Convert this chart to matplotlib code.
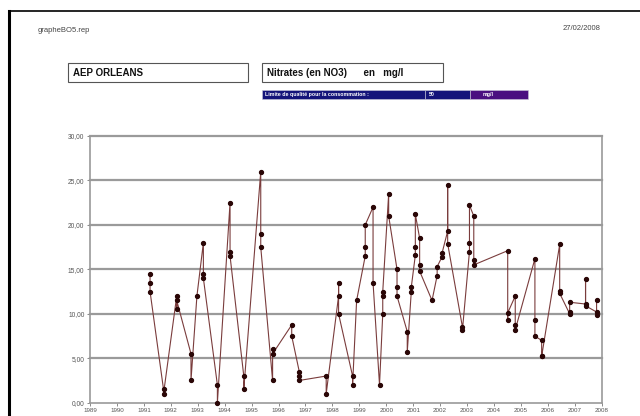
import numpy as np
import matplotlib.pyplot as plt
from matplotlib.patches import Rectangle
from matplotlib.lines import Line2D

plt.rcParams['font.family'] = ['Liberation Sans', 'DejaVu Sans']

# sampling dates (decimal years) and nitrate measurements in mg/l
dates = [1991.23, 1991.23, 1991.23,
         1991.73, 1991.73,
         1992.22, 1992.22, 1992.22,
         1992.75, 1992.75,
         1992.97,
         1993.21, 1993.21, 1993.21,
         1993.73, 1993.73,
         1994.20, 1994.20, 1994.20,
         1994.71, 1994.71,
         1995.34, 1995.34, 1995.34,
         1995.78, 1995.78, 1995.78,
         1996.49, 1996.49,
         1996.77, 1996.77, 1996.77,
         1997.77, 1997.77,
         1998.23, 1998.23, 1998.23,
         1998.75, 1998.75,
         1998.90,
         1999.22, 1999.22, 1999.22,
         1999.51, 1999.51,
         1999.75,
         1999.87, 1999.87, 1999.87,
         2000.09, 2000.09,
         2000.40, 2000.40, 2000.40,
         2000.78, 2000.78,
         2000.93, 2000.93,
         2001.08, 2001.08, 2001.08,
         2001.24, 2001.24, 2001.24,
         2001.70,
         2001.89, 2001.89,
         2002.07, 2002.07,
         2002.28, 2002.28, 2002.28,
         2002.83, 2002.83,
         2003.09, 2003.09, 2003.09,
         2003.25, 2003.25, 2003.25,
         2004.51, 2004.51, 2004.51,
         2004.79, 2004.79, 2004.79,
         2005.52, 2005.52, 2005.52,
         2005.77, 2005.77, 2005.77,
         2006.44, 2006.44, 2006.44,
         2006.81, 2006.81, 2006.81,
         2007.40, 2007.40, 2007.40,
         2007.81, 2007.81, 2007.81]
nitrates = [14.5, 13.5, 12.5,
            1.5, 1.0,
            12.0, 10.5, 11.5,
            5.5, 2.5,
            12.0,
            18.0, 14.5, 14.0,
            2.0, 0.0,
            22.5, 17.0, 16.5,
            3.0, 1.5,
            26.0, 19.0, 17.5,
            2.5, 6.0, 5.5,
            8.75, 7.5,
            3.5, 3.0, 2.5,
            3.0, 1.0,
            12.0, 13.5, 10.0,
            3.0, 2.0,
            11.5,
            16.5, 17.5, 20.0,
            22.0, 13.5,
            2.0,
            10.0, 12.0, 12.5,
            23.5, 21.0,
            15.0, 13.0, 12.0,
            8.0, 5.7,
            12.5, 13.0,
            16.6, 17.5, 21.2,
            18.5, 15.5, 14.8,
            11.5,
            14.3, 15.3,
            16.4, 16.8,
            19.3, 24.5, 17.9,
            8.5, 8.2,
            17.0, 18.0, 22.2,
            21.0, 16.0, 15.5,
            17.1, 9.3, 10.1,
            12.0, 8.7, 8.2,
            16.2, 9.3, 7.5,
            7.0, 5.3, 5.2,
            17.8, 12.6, 12.3,
            10.0, 10.2, 11.3,
            11.1, 13.9, 10.9,
            10.2, 9.9, 11.5]

years = list(range(1989, 2009))
yticks = [0, 5, 10, 15, 20, 25, 30]

W, H = 640, 416
fig = plt.figure(figsize=(W / 100, H / 100), dpi=100)
fig.patch.set_facecolor('white')


def px(x, y):
    return x / W, 1 - y / H


# page frame (left and top edges)
fig.add_artist(Line2D([9 / W, 9 / W], [0, 1 - 11 / H], color='black', lw=2.2))
fig.add_artist(Line2D([9 / W, 1], [1 - 11 / H, 1 - 11 / H], color='black', lw=1.2))

fig.text(*px(38, 30), 'grapheBO5.rep', fontsize=5.5, color='#444444', va='center')
fig.text(*px(600, 29), '27/02/2008', fontsize=5.5, color='#444444', va='center', ha='right')

# header boxes
for x0, x1, label in [(68, 248, 'AEP ORLEANS'), (262, 443, 'Nitrates (en NO3)      en   mg/l')]:
    fig.add_artist(Rectangle(px(x0, 82), (x1 - x0) / W, 19 / H, transform=fig.transFigure,
                             facecolor='white', edgecolor='#555555', lw=0.8))
    fig.text(*px(x0 + 5, 73), label, fontsize=7, fontweight='bold', color='#111111', va='center')

# quality limit banner
for x0, x1, col in [(262, 425, '#14147a'), (425, 470, '#14147a'), (470, 528, '#4a1080')]:
    fig.add_artist(Rectangle(px(x0, 99), (x1 - x0) / W, 9 / H, transform=fig.transFigure,
                             facecolor=col, edgecolor='#c8c8d8', lw=0.4))
fig.text(*px(265, 94.5), 'Limite de qualité pour la consommation :', fontsize=3.8,
         fontweight='bold', color='white', va='center')
fig.text(*px(429, 94.5), '50', fontsize=3.8, fontweight='bold', color='white', va='center')
fig.text(*px(483, 94.5), 'mg/l', fontsize=3.8, fontweight='bold', color='white', va='center')

ax = fig.add_axes([90 / W, 1 - 402.7 / H, (601.7 - 90) / W, (402.7 - 136) / H])
ax.set_xlim(1989, 2008)
ax.set_ylim(0, 30)

for v in yticks[1:]:
    ax.axhline(v, color='#9a9a9a', lw=1.6, zorder=1, clip_on=False)

ax.plot(dates, nitrates, color='#7a3c3c', lw=0.8, zorder=3)
ax.plot(dates, nitrates, ls='none', marker='o', ms=2.8, mfc='#2a0606', mec='#2a0606',
        zorder=4, clip_on=False)

ax.set_yticks(yticks)
ax.set_yticklabels([f'{v:.2f}'.replace('.', ',') for v in yticks], fontsize=4.8, color='#555555')
ax.set_xticks(years)
ax.set_xticklabels([str(y) for y in years], fontsize=4.5, color='#555555')
ax.tick_params(axis='both', length=2.5, width=0.6, color='#777777', pad=1.5)

for side in ['left', 'bottom', 'right']:
    ax.spines[side].set_color('#9a9a9a')
    ax.spines[side].set_linewidth(1.2)
ax.spines['top'].set_visible(False)

fig.savefig('out.png', dpi=100)
